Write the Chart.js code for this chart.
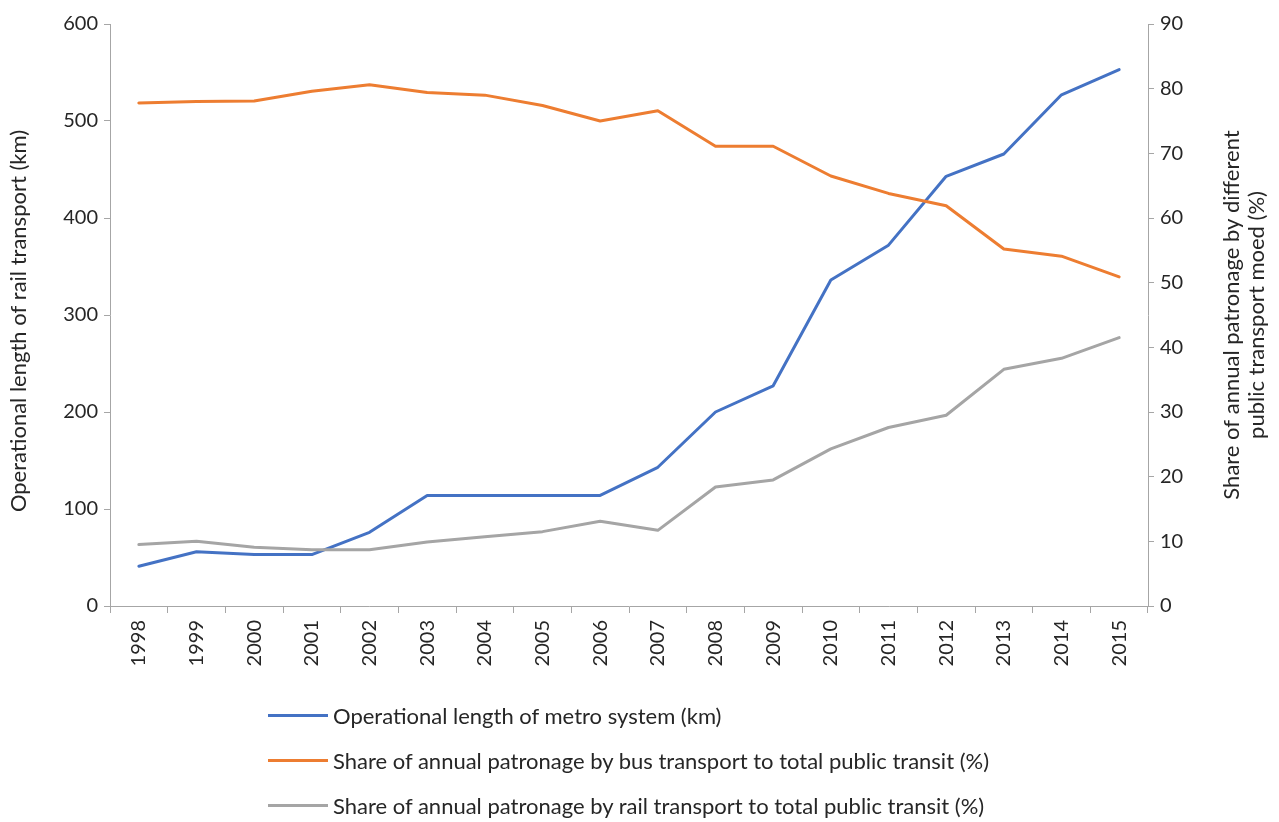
<!DOCTYPE html>
<html>
<head>
<meta charset="utf-8">
<script src="https://cdn.jsdelivr.net/npm/chart.js@4.4.0/dist/chart.umd.min.js"></script>
<style>
    body { margin: 0; background: #fff; }
    #wrap { position: relative; width: 1279px; height: 822px; }
    #legend { position: absolute; left: 268px; top: 693px; font-family: Lato, sans-serif; font-size: 22px; color: #262626; }
    .item { display: flex; align-items: center; height: 45px; white-space: nowrap; }
    .swatch { width: 60px; height: 3px; margin-right: 5px; }
</style>
</head>
<body>
<div id="wrap">
    <canvas id="chart"></canvas>
    <div id="legend"></div>
</div>
<script>
const years = ['1998', '1999', '2000', '2001', '2002', '2003', '2004', '2005', '2006',
    '2007', '2008', '2009', '2010', '2011', '2012', '2013', '2014', '2015'];

const metroKm = [41, 56, 53, 53, 76, 114, 114, 114, 114, 143, 200, 227, 336, 372, 443, 466, 527, 553];
const busShare = [77.8, 78.0, 78.1, 79.6, 80.6, 79.4, 79.0, 77.4, 75.0, 76.6, 71.1, 71.1, 66.5, 63.8, 61.9, 55.2, 54.1, 50.9];
const railShare = [9.5, 10.0, 9.1, 8.7, 8.7, 9.9, 10.7, 11.5, 13.1, 11.7, 18.4, 19.5, 24.3, 27.6, 29.5, 36.6, 38.3, 41.5];

const seriesNames = [
    'Operational length of metro system (km)',
    'Share of annual patronage by bus transport to total public transit (%)',
    'Share of annual patronage by rail transport to total public transit (%)'
];
const seriesColors = ['#4472C4', '#ED7D31', '#A5A5A5'];

const leftTitle = ['Operational length of rail transport (km)'];
const rightTitle = ['Share of annual patronage by different', 'public transport moed (%)'];

const textColor = '#262626';
const axisColor = '#A6A6A6';
const fontFamily = 'Lato, sans-serif';

// both axis titles read bottom to top, Chart.js flips the right one, so draw them here
function drawTitle(ctx, lines, x, y) {
    lines.forEach((line, i) => {
        ctx.save();
        ctx.translate(x + i * 25, y);
        ctx.rotate(-Math.PI / 2);
        ctx.fillText(line, 0, 0);
        ctx.restore();
    });
}

const axisTitlePlugin = {
    id: 'axisTitles',
    afterDraw(chart) {
        const ctx = chart.ctx;
        const area = chart.chartArea;
        const midY = (area.top + area.bottom) / 2;
        ctx.save();
        ctx.fillStyle = textColor;
        ctx.font = '22px ' + fontFamily;
        ctx.textAlign = 'center';
        ctx.textBaseline = 'middle';
        drawTitle(ctx, leftTitle, 19, midY + 6);
        drawTitle(ctx, rightTitle, 1232, midY);
        ctx.restore();
    }
};

function makeDataset(i, data, axis) {
    return {
        label: seriesNames[i],
        data: data,
        yAxisID: axis,
        borderColor: seriesColors[i],
        backgroundColor: seriesColors[i],
        borderWidth: 3,
        pointRadius: 0,
        tension: 0,
        borderCapStyle: 'round',
        borderJoinStyle: 'round',
        order: 3 - i
    };
}

Chart.defaults.font.family = fontFamily;
Chart.defaults.font.size = 20;
Chart.defaults.color = textColor;

new Chart(document.getElementById('chart'), {
    type: 'line',
    data: {
        labels: years,
        datasets: [
            makeDataset(0, metroKm, 'y'),
            makeDataset(1, busShare, 'y1'),
            makeDataset(2, railShare, 'y1')
        ]
    },
    options: {
        responsive: true,
        maintainAspectRatio: false,
        animation: false,
        layout: { padding: { top: 24, left: 0, right: 0, bottom: 0 } },
        plugins: {
            legend: { display: false },
            tooltip: { enabled: false }
        },
        scales: {
            x: {
                offset: true,
                grid: { display: true, drawOnChartArea: false, drawTicks: true, tickLength: 7, color: axisColor, offset: true },
                border: { color: axisColor },
                ticks: { autoSkip: false, maxRotation: 90, minRotation: 90, padding: 7 },
                afterFit(scale) { scale.height = 216; }
            },
            y: {
                position: 'left',
                min: 0,
                max: 600,
                ticks: { stepSize: 100, padding: 6 },
                grid: { drawOnChartArea: false, drawTicks: true, tickLength: 6, color: axisColor },
                border: { color: axisColor },
                afterFit(scale) { scale.width = 110; }
            },
            y1: {
                position: 'right',
                min: 0,
                max: 90,
                ticks: { stepSize: 10, padding: 6 },
                grid: { drawOnChartArea: false, drawTicks: true, tickLength: 6, color: axisColor },
                border: { color: axisColor },
                afterFit(scale) { scale.width = 131; }
            }
        }
    },
    plugins: [axisTitlePlugin]
});

// legend as a plain list, one series per row
const legend = document.getElementById('legend');
seriesNames.forEach((name, i) => {
    const row = document.createElement('div');
    row.className = 'item';
    row.innerHTML = '<span class="swatch" style="background:' + seriesColors[i] + '"></span><span>' + name + '</span>';
    legend.appendChild(row);
});
</script>
</body>
</html>
